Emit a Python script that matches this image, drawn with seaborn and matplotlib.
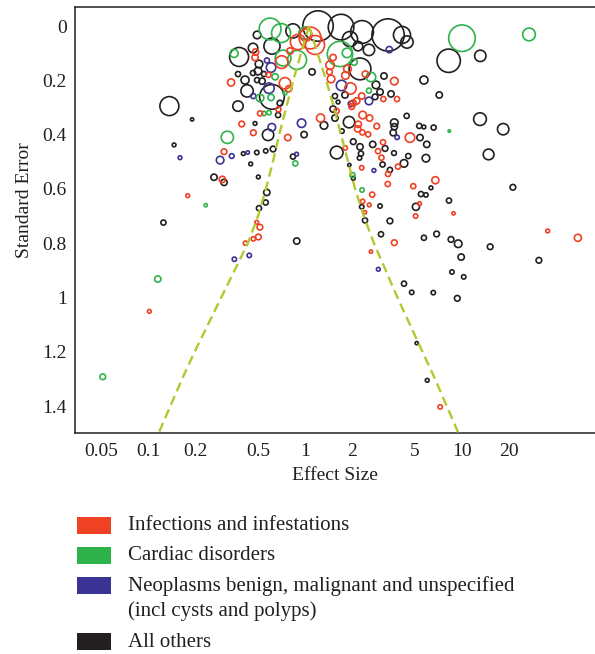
import numpy as np
import pandas as pd
import matplotlib
matplotlib.use("Agg")
import matplotlib.pyplot as plt
from matplotlib.patches import Rectangle
from matplotlib.ticker import NullLocator
import seaborn as sns

categories = ["Infections and infestations", "Cardiac disorders",
              "Neoplasms benign, malignant and unspecified\n(incl cysts and polyps)",
              "All others"]
colors = ["#EF4123", "#2DB34A", "#3B3393", "#231F20"]

x_ticks = [0.05, 0.1, 0.2, 0.5, 1, 2, 5, 10, 20]
x_tick_labels = ["0.05", "0.1", "0.2", "0.5", "1", "2", "5", "10", "20"]
y_ticks = [0, 0.2, 0.4, 0.6, 0.8, 1.0, 1.2, 1.4]
y_tick_labels = ["0", "0.2", "0.4", "0.6", "0.8", "1", "1.2", "1.4"]

# log10 effect size, standard error and study weight, per category
inf_log_es = [0.032, 0.064, 0.006, -0.045, -0.149, -0.096, -0.316, -0.319, -0.472, -0.234,
              -0.128, -0.104, 0.160, 0.179, 0.156, 0.166, 0.258, 0.271, 0.290, 0.385,
              0.570, 0.587, 0.500, 0.362, 0.330, 0.308, 0.298, 0.202, 0.099, 0.368,
              0.412, 0.340, 0.336, 0.366, 0.403, 0.458, 0.670, 0.498, 0.466, 0.488,
              0.257, 0.362, 0.593, 0.530, 0.528, 0.429, 0.368, 0.410, 0.383, 0.691,
              0.832, 0.731, 0.706, 0.948, 0.570, 0.421, 0.863, 1.549, 1.742, -0.287,
              -0.170, -0.404, -0.330, -0.110, -0.517, -0.528, -0.749, -0.994, -0.308, -0.288,
              -0.298, -0.330, -0.380]
inf_se = [0.044, 0.070, 0.033, 0.059, 0.133, 0.092, 0.096, 0.116, 0.208, 0.180,
          0.211, 0.231, 0.144, 0.116, 0.169, 0.195, 0.182, 0.158, 0.230, 0.177,
          0.203, 0.269, 0.269, 0.258, 0.276, 0.284, 0.297, 0.313, 0.339, 0.328,
          0.339, 0.362, 0.379, 0.392, 0.399, 0.369, 0.411, 0.428, 0.461, 0.485,
          0.449, 0.522, 0.518, 0.545, 0.582, 0.621, 0.646, 0.659, 0.686, 0.590,
          0.568, 0.654, 0.700, 0.690, 0.798, 0.831, 1.403, 0.755, 0.780, 0.322,
          0.307, 0.361, 0.393, 0.411, 0.463, 0.565, 0.625, 1.051, 0.723, 0.741,
          0.777, 0.784, 0.800]
inf_weight = [132, 100, 42, 64, 45, 11, 11, 11, 14, 7.3,
              36, 11, 20, 11, 9, 16, 16, 16, 36, 11,
              16, 7.3, 7.3, 11, 11, 11, 9, 7.3, 18, 16,
              11, 11, 11, 7.3, 7.3, 9, 25, 7.3, 7.3, 7.3,
              5.3, 5.3, 7.3, 7.3, 7.3, 7.3, 5.3, 4, 2.9, 7.3,
              14, 4, 5.3, 2.9, 9, 2.9, 5.3, 4, 14, 7.3,
              7.3, 9, 9, 11, 9, 11, 4, 4, 4, 9,
              9, 5.3, 5.3]

card_log_es = [-0.223, -0.153, -0.140, -0.051, 0.000, 0.223, 0.268, 0.313, 0.421, 0.408,
               -0.453, -0.191, -0.287, -0.217, -0.128, -0.262, -0.230, -0.496, -0.062, -0.634,
               -0.940, -1.291, 1.002, 1.430, 0.921, 0.303, 0.364]
card_se = [0.011, 0.026, 0.118, 0.125, 0.026, 0.103, 0.099, 0.133, 0.188, 0.238,
           0.101, 0.187, 0.265, 0.263, 0.247, 0.322, 0.319, 0.410, 0.506, 0.660,
           0.932, 1.292, 0.045, 0.031, 0.387, 0.549, 0.604]
card_weight = [132, 100, 69, 100, 42, 177, 25, 11, 25, 7.3,
               18, 11, 16, 11, 4, 5.3, 5.3, 42, 7.3, 2.9,
               11, 9, 196, 45, 1.7, 7.3, 5.3]

neo_log_es = [0.538, -0.243, -0.217, -0.230, -0.330, 0.233, 0.408, 0.294, -0.022, -0.212,
              -0.366, -0.468, -0.542, -0.798, -0.054, 0.588, 0.440, 0.468, -0.451, -0.356]
neo_se = [0.087, 0.127, 0.153, 0.229, 0.258, 0.219, 0.276, 0.287, 0.358, 0.373,
          0.466, 0.479, 0.494, 0.485, 0.472, 0.410, 0.532, 0.896, 0.859, 0.845]
neo_weight = [11, 7.3, 25, 30, 7.3, 30, 16, 9, 20, 16,
              3.2, 6.3, 16, 4, 4, 5.3, 4, 4, 5.3, 5.3]

oth_log_es = [0.083, 0.230, 0.364, 0.530, 0.619, 0.651, 0.287, 0.338, 0.408, -0.077,
              -0.306, -0.332, -0.211, -0.421, 0.351, -0.211, -0.370, -0.383, -0.428, -0.294,
              -0.332, -0.300, -0.306, -0.262, -0.274, -0.428, 0.045, 0.759, 0.504, 0.453,
              0.479, 0.549, 0.447, 0.191, 0.211, 0.255, 0.179, 0.191, 0.281, 0.121,
              -0.006, 0.236, -0.172, -0.160, -0.319, -0.236, -0.077, -0.308, -0.251, -0.204,
              -0.394, -0.347, -0.298, -0.244, -0.251, -0.294, -0.581, -0.517, -0.721, -0.836,
              -0.904, -0.866, -0.053, 0.202, 0.308, 0.351, 0.357, 0.348, 0.283, 0.308,
              0.432, 0.511, 0.568, 0.495, 0.542, 0.632, 0.659, 0.772, 0.777, 0.734,
              0.649, 0.570, 0.570, 0.563, 0.729, 0.759, 0.821, 0.857, 0.917, 1.119,
              1.117, 1.265, 1.172, 1.327, 0.804, 0.740, 0.772, 0.708, 0.479, 0.362,
              0.383, 0.542, 0.485, 0.759, 0.840, 0.919, 0.932, 0.978, 0.997, 0.938,
              1.013, 0.972, 0.819, 0.681, 0.632, 1.182, 1.493, 0.713, 0.780]
oth_se = [0.000, 0.004, 0.022, 0.033, 0.033, 0.059, 0.048, 0.074, 0.088, 0.018,
          0.033, 0.081, 0.074, 0.114, 0.158, 0.261, 0.239, 0.199, 0.177, 0.140,
          0.173, 0.166, 0.199, 0.177, 0.203, 0.295, 0.169, 0.199, 0.184, 0.217,
          0.243, 0.250, 0.261, 0.258, 0.280, 0.254, 0.306, 0.339, 0.354, 0.366,
          0.400, 0.387, 0.328, 0.284, 0.359, 0.401, 0.481, 0.466, 0.460, 0.453,
          0.470, 0.508, 0.556, 0.613, 0.650, 0.671, 0.557, 0.576, 0.344, 0.438,
          0.724, 0.295, 0.792, 0.466, 0.426, 0.445, 0.470, 0.486, 0.512, 0.561,
          0.436, 0.451, 0.468, 0.510, 0.530, 0.506, 0.479, 0.487, 0.436, 0.411,
          0.331, 0.356, 0.371, 0.393, 0.368, 0.372, 0.374, 0.254, 0.128, 0.110,
          0.343, 0.380, 0.473, 0.594, 0.596, 0.619, 0.622, 0.666, 0.663, 0.666,
          0.716, 0.718, 0.767, 0.780, 0.766, 0.643, 0.786, 0.802, 0.851, 0.906,
          0.924, 1.003, 0.982, 0.981, 0.949, 0.813, 0.863, 1.168, 1.305]
oth_weight = [256, 182, 144, 289, 81, 42, 64, 25, 36, 56,
              16, 25, 72, 100, 132, 169, 42, 18, 7.3, 16,
              7.3, 16, 7.3, 7.3, 11, 30, 11, 18, 11, 16,
              11, 11, 9, 7.3, 4, 11, 11, 11, 36, 16,
              11, 5.3, 7.3, 9, 4, 36, 7.3, 5.3, 5.3, 9,
              4, 4, 4, 11, 7.3, 7.3, 11, 11, 2.9, 4,
              7.3, 100, 11, 45, 9, 11, 7.3, 5.3, 2.9, 4,
              11, 9, 6.3, 7.3, 7.3, 16, 7.3, 16, 11, 11,
              7.3, 16, 11, 11, 7.3, 4, 7.3, 11, 151, 36,
              45, 36, 32, 9, 4, 7.3, 5.3, 14, 5.3, 5.3,
              7.3, 9, 7.3, 7.3, 9, 7.3, 9, 16, 11, 5.3,
              5.3, 9, 5.3, 5.3, 7.3, 9, 9, 2.9, 4]

# funnel (pseudo confidence limits)
funnel_se = [0.0, 0.1, 0.2, 0.3, 0.4, 0.5, 0.6, 0.7, 0.8, 0.9, 1.0, 1.1, 1.2, 1.3, 1.4, 1.5, 1.6]
funnel_lo_log = [0.025, -0.025, -0.075, -0.120, -0.165, -0.205, -0.250, -0.300, -0.365, -0.450,
                 -0.535, -0.620, -0.705, -0.785, -0.860, -0.935, -1.010]
funnel_hi_log = [0.025, 0.080, 0.135, 0.185, 0.230, 0.275, 0.320, 0.375, 0.440, 0.515,
                 0.590, 0.670, 0.750, 0.830, 0.905, 0.980, 1.055]

sns.set_style("white")
plt.rcParams["font.family"] = ["Liberation Serif", "DejaVu Serif"]

df = pd.DataFrame({
    "log_es": oth_log_es + neo_log_es + card_log_es + inf_log_es,
    "se": oth_se + neo_se + card_se + inf_se,
    "weight": oth_weight + neo_weight + card_weight + inf_weight,
    "category": [categories[3]] * len(oth_se) + [categories[2]] * len(neo_se)
                + [categories[1]] * len(card_se) + [categories[0]] * len(inf_se),
})
df["es"] = 10 ** df["log_es"]

fig = plt.figure(figsize=(5.95, 6.54), dpi=100)
ax = fig.add_axes([75 / 595, 1 - 433 / 654, 1 - 75 / 595, (433 - 7) / 654])

ink = "#231F20"
sns.scatterplot(data=df, x="es", y="se", hue="category", hue_order=categories,
                palette=colors, size="weight", size_norm=(0, 300), sizes=(0, 560),
                legend=False, ax=ax, linewidth=1.0, zorder=3)
coll = ax.collections[0]
fc = coll.get_facecolors()
coll.set_edgecolors(fc)
coll.set_facecolors("none")
coll.set_linewidths(1.2)

funnel_lo = [10 ** v for v in funnel_lo_log]
funnel_hi = [10 ** v for v in funnel_hi_log]
ax.plot(funnel_lo, funnel_se, color="#B5C72F", lw=1.7, ls=(0, (4, 2.2)), zorder=4)
ax.plot(funnel_hi, funnel_se, color="#B5C72F", lw=1.7, ls=(0, (4, 2.2)), zorder=4)

ax.set_xscale("log")
ax.set_xlim(0.034, 71)
ax.set_ylim(1.499, -0.07)
ax.set_xticks(x_ticks)
ax.set_xticklabels(x_tick_labels)
ax.xaxis.set_minor_locator(NullLocator())
ax.set_yticks(y_ticks)
ax.set_yticklabels(y_tick_labels)
ax.tick_params(axis="x", length=4, width=1.0, color=ink, labelsize=14, labelcolor=ink, pad=3)
ax.tick_params(axis="y", length=0, labelsize=14, labelcolor=ink, pad=6)
ax.set_xlabel("Effect Size", fontsize=14, color=ink, labelpad=5)
ax.set_ylabel("Standard Error", fontsize=14, color=ink)
ax.yaxis.set_label_coords(-0.081, 0.546)
for side in ["left", "bottom", "top"]:
    ax.spines[side].set_color(ink)
    ax.spines[side].set_linewidth(1.1)
ax.spines["right"].set_visible(False)
ax.grid(False)

# legend drawn below the plot: colour square and label lines
rows_y = [525, 555, 585, 641.7]
for lab, col, yc in zip(categories, colors, rows_y):
    fig.add_artist(Rectangle((76.7 / 595, 1 - (yc + 8.5) / 654), 34 / 595, 17 / 654,
                             transform=fig.transFigure, facecolor=col, edgecolor="none"))
    for i, line in enumerate(lab.split("\n")):
        fig.text(128 / 595, 1 - (yc + 5.5 + 25.5 * i) / 654, line, fontsize=15, color=ink,
                 va="baseline", ha="left")

fig.savefig("out.png", dpi=100)
